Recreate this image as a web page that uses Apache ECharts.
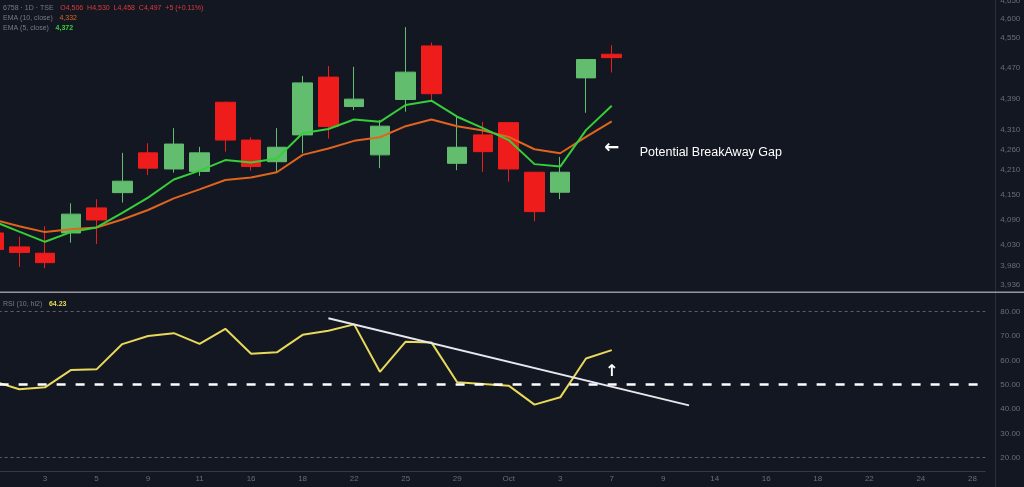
<!DOCTYPE html>
<html><head><meta charset="utf-8">
<script src="https://cdn.jsdelivr.net/npm/echarts@6/dist/echarts.min.js"></script>
<style>html,body{margin:0;padding:0;background:#131722;}#c{width:1024px;height:487px;}</style>
</head><body><div id="c"></div>
<script>
// ---- data ----
const dates = ['30','2','3','4','5','6','9','10','11','12','16','17','18','19','22','24','25','26','29','30','Oct','2','3','4','7','8','9','10','14','15','16','17','18','21','22','23','24','25','28'];
const openP  = [4058,4025,4010,4058,4118,4155,4253,4213,4207,4381,4285,4231,4298,4446,4370,4248,4388,4528,4227,4298,4329,4205,4156,4444,4506];
const closeP = [4019,4012,3988,4103,4089,4183,4215,4275,4253,4285,4219,4267,4431,4319,4389,4320,4459,4403,4267,4256,4213,4109,4205,4492,4497];
const lowP   = [4003,3978,3975,4035,4032,4131,4198,4204,4196,4256,4209,4204,4252,4289,4361,4215,4357,4387,4210,4206,4182,4086,4139,4354,4458];
const highP  = [4074,4049,4074,4129,4139,4253,4277,4315,4268,4383,4292,4315,4449,4475,4473,4336,4578,4537,4344,4331,4330,4206,4243,4493,4530];
const ema10  = [4090,4074,4060,4067,4071,4090,4113,4141,4163,4186,4192,4205,4248,4264,4283,4292,4320,4337,4320,4309,4293,4262,4252,4293,4332];
const ema5   = [4086,4061,4037,4060,4071,4106,4143,4187,4209,4235,4229,4239,4302,4313,4337,4331,4374,4385,4344,4315,4285,4225,4219,4310,4372];
const rsi    = [51.4,48.1,48.9,56.0,56.3,66.7,70.0,71.2,66.8,73.0,62.7,63.3,70.5,72.2,74.8,55.3,67.7,67.4,51.0,50.3,49.6,41.8,44.8,60.8,64.23];
const priceTicks = [3936,3980,4030,4090,4150,4210,4260,4310,4390,4470,4550,4600,4650];
const rsiTicks = [20,30,40,50,60,70,80];
const rsiLevels = [80,50,20];
const lastPrice = 4497;
const rsiTrend = [[13,77.3],[27,41.5]];
const gapArrowAt = [24,4265];
const gapTextAt = [24,4255];
const rsiArrowAt = [24,55.2];

// ---- chart ----
const chart = echarts.init(document.getElementById('c'), null, {renderer:'canvas'});
const catW = 25.76;
const gridLeft = -6.5 - catW/2;
const gridWidth = catW * dates.length;
const FONT = 'Liberation Sans';
const fmt = v => Math.round(v).toString().replace(/\B(?=(\d{3})+(?!\d))/g, ',');
const labelCol = '#6a6d78';

const option = {
  backgroundColor:'#131722',
  animation:false,
  textStyle:{fontFamily:FONT},
  grid:[
    {left:gridLeft, width:gridWidth, top:0, height:292, outerBoundsMode:'none', containLabel:false},
    {left:gridLeft, width:gridWidth, top:294, height:177, outerBoundsMode:'none', containLabel:false}
  ],
  xAxis:[
    {type:'category', gridIndex:0, data:dates, boundaryGap:true, show:false},
    {type:'category', gridIndex:1, data:dates, boundaryGap:true,
     axisLine:{show:true, lineStyle:{color:'#363a45'}}, axisTick:{show:false}, splitLine:{show:false},
     axisLabel:{interval:(i)=> i%2===0 && i>0, color:labelCol, fontSize:8, margin:4, fontFamily:FONT}}
  ],
  yAxis:[
    {type:'log', logBase:10, gridIndex:0, position:'right', offset:10, min:3920, max:4651.5,
     axisLine:{show:false}, axisTick:{show:false}, splitLine:{show:false},
     axisLabel:{customValues:priceTicks, formatter:v=>fmt(v), color:labelCol, fontSize:8, margin:5, fontFamily:FONT}},
    {type:'value', gridIndex:1, position:'right', offset:10, min:14.5, max:87.3,
     axisLine:{show:false}, axisTick:{show:false}, splitLine:{show:false},
     axisLabel:{customValues:rsiTicks, formatter:v=>v.toFixed(2), color:labelCol, fontSize:8, margin:5, fontFamily:FONT}}
  ],
  series:[
    {type:'candlestick', xAxisIndex:0, yAxisIndex:0, barWidth:20,
     data: openP.map((o,i)=>[o, closeP[i], lowP[i], highP[i]]),
     itemStyle:{color:'#62be6e', color0:'#ef1c1c', borderColor:'#62be6e', borderColor0:'#ef1c1c', borderWidth:1},
     markLine:{silent:true, symbol:['none','none'], lineStyle:{opacity:0},
       data:[{yAxis:lastPrice}],
       label:{show:true, position:'end', distance:11, formatter:()=>fmt(lastPrice), color:'#fff', fontSize:8, fontWeight:'bold',
              backgroundColor:'#ef2b2b', padding:[2,3,2,3], fontFamily:FONT}},
     markPoint:{silent:true, symbol:'circle', symbolSize:0,
       data:[
         {coord:gapArrowAt, label:{show:true, position:'inside', formatter:'←', color:'#ffffff', fontSize:18, fontWeight:'bold', fontFamily:'DejaVu Sans'}},
         {coord:gapTextAt, label:{show:true, position:'inside', align:'left', offset:[28,0], formatter:'Potential BreakAway Gap', color:'#ffffff', fontSize:12.5, fontFamily:FONT}}
       ]}
    },
    {type:'line', xAxisIndex:0, yAxisIndex:0, data:ema10, symbol:'none', lineStyle:{color:'#e0641e', width:2}, z:3},
    {type:'line', xAxisIndex:0, yAxisIndex:0, data:ema5, symbol:'none', lineStyle:{color:'#36cf3a', width:2}, z:4},
    {type:'line', xAxisIndex:1, yAxisIndex:1, data:rsi, symbol:'none', lineStyle:{color:'#e8d95a', width:2}, z:3},
    {type:'line', xAxisIndex:1, yAxisIndex:1, data:[], symbol:'none', z:5,
     markLine:{silent:true, symbol:['none','none'], label:{show:false},
       data:[
         {yAxis:rsiLevels[0], lineStyle:{color:'#5d606b', width:1, type:[3,3]}},
         {yAxis:rsiLevels[1], lineStyle:{color:'#ffffff', width:2.5, type:[9,10]}},
         {yAxis:rsiLevels[2], lineStyle:{color:'#5d606b', width:1, type:[3,3]}}
       ]},
     markPoint:{silent:true, symbol:'circle', symbolSize:0,
       data:[{coord:rsiArrowAt, label:{show:true, position:'inside', formatter:'↑', color:'#ffffff', fontSize:16, fontWeight:'bold', fontFamily:'DejaVu Sans'}}]}
    },
    {type:'line', xAxisIndex:1, yAxisIndex:1, data:rsiTrend, symbol:'none', lineStyle:{color:'#e6e8ee', width:2}, z:6}
  ],
  graphic:[
    {type:'rect', shape:{x:995, y:0, width:1, height:487}, style:{fill:'#2a2e39'}, z:1},
    {type:'rect', shape:{x:0, y:291.5, width:1024, height:1.5}, style:{fill:'#9598a1'}, z:1},
    {type:'text', left:3, top:2, style:{text:'{g|6758 · 1D · TSE}  {r|O4,506  H4,530  L4,458  C4,497  +5 (+0.11%)}',
      rich:{g:{fill:'#787b86', fontSize:7, fontFamily:FONT}, r:{fill:'#e0393b', fontSize:7, fontFamily:FONT}}}},
    {type:'text', left:3, top:12, style:{text:'{g|EMA (10, close)}  {o|4,332}',
      rich:{g:{fill:'#787b86', fontSize:7, fontFamily:FONT}, o:{fill:'#e0641e', fontSize:7, fontFamily:FONT}}}},
    {type:'text', left:3, top:22, style:{text:'{g|EMA (5, close)}  {v|4,372}',
      rich:{g:{fill:'#787b86', fontSize:7, fontFamily:FONT}, v:{fill:'#36cf3a', fontSize:7, fontWeight:'bold', fontFamily:FONT}}}},
    {type:'text', left:3, top:298, style:{text:'{g|RSI (10, hl2)}  {y|64.23}',
      rich:{g:{fill:'#787b86', fontSize:7, fontFamily:FONT}, y:{fill:'#e8d95a', fontSize:7, fontWeight:'bold', fontFamily:FONT}}}}
  ]
};
chart.setOption(option);
</script></body></html>
